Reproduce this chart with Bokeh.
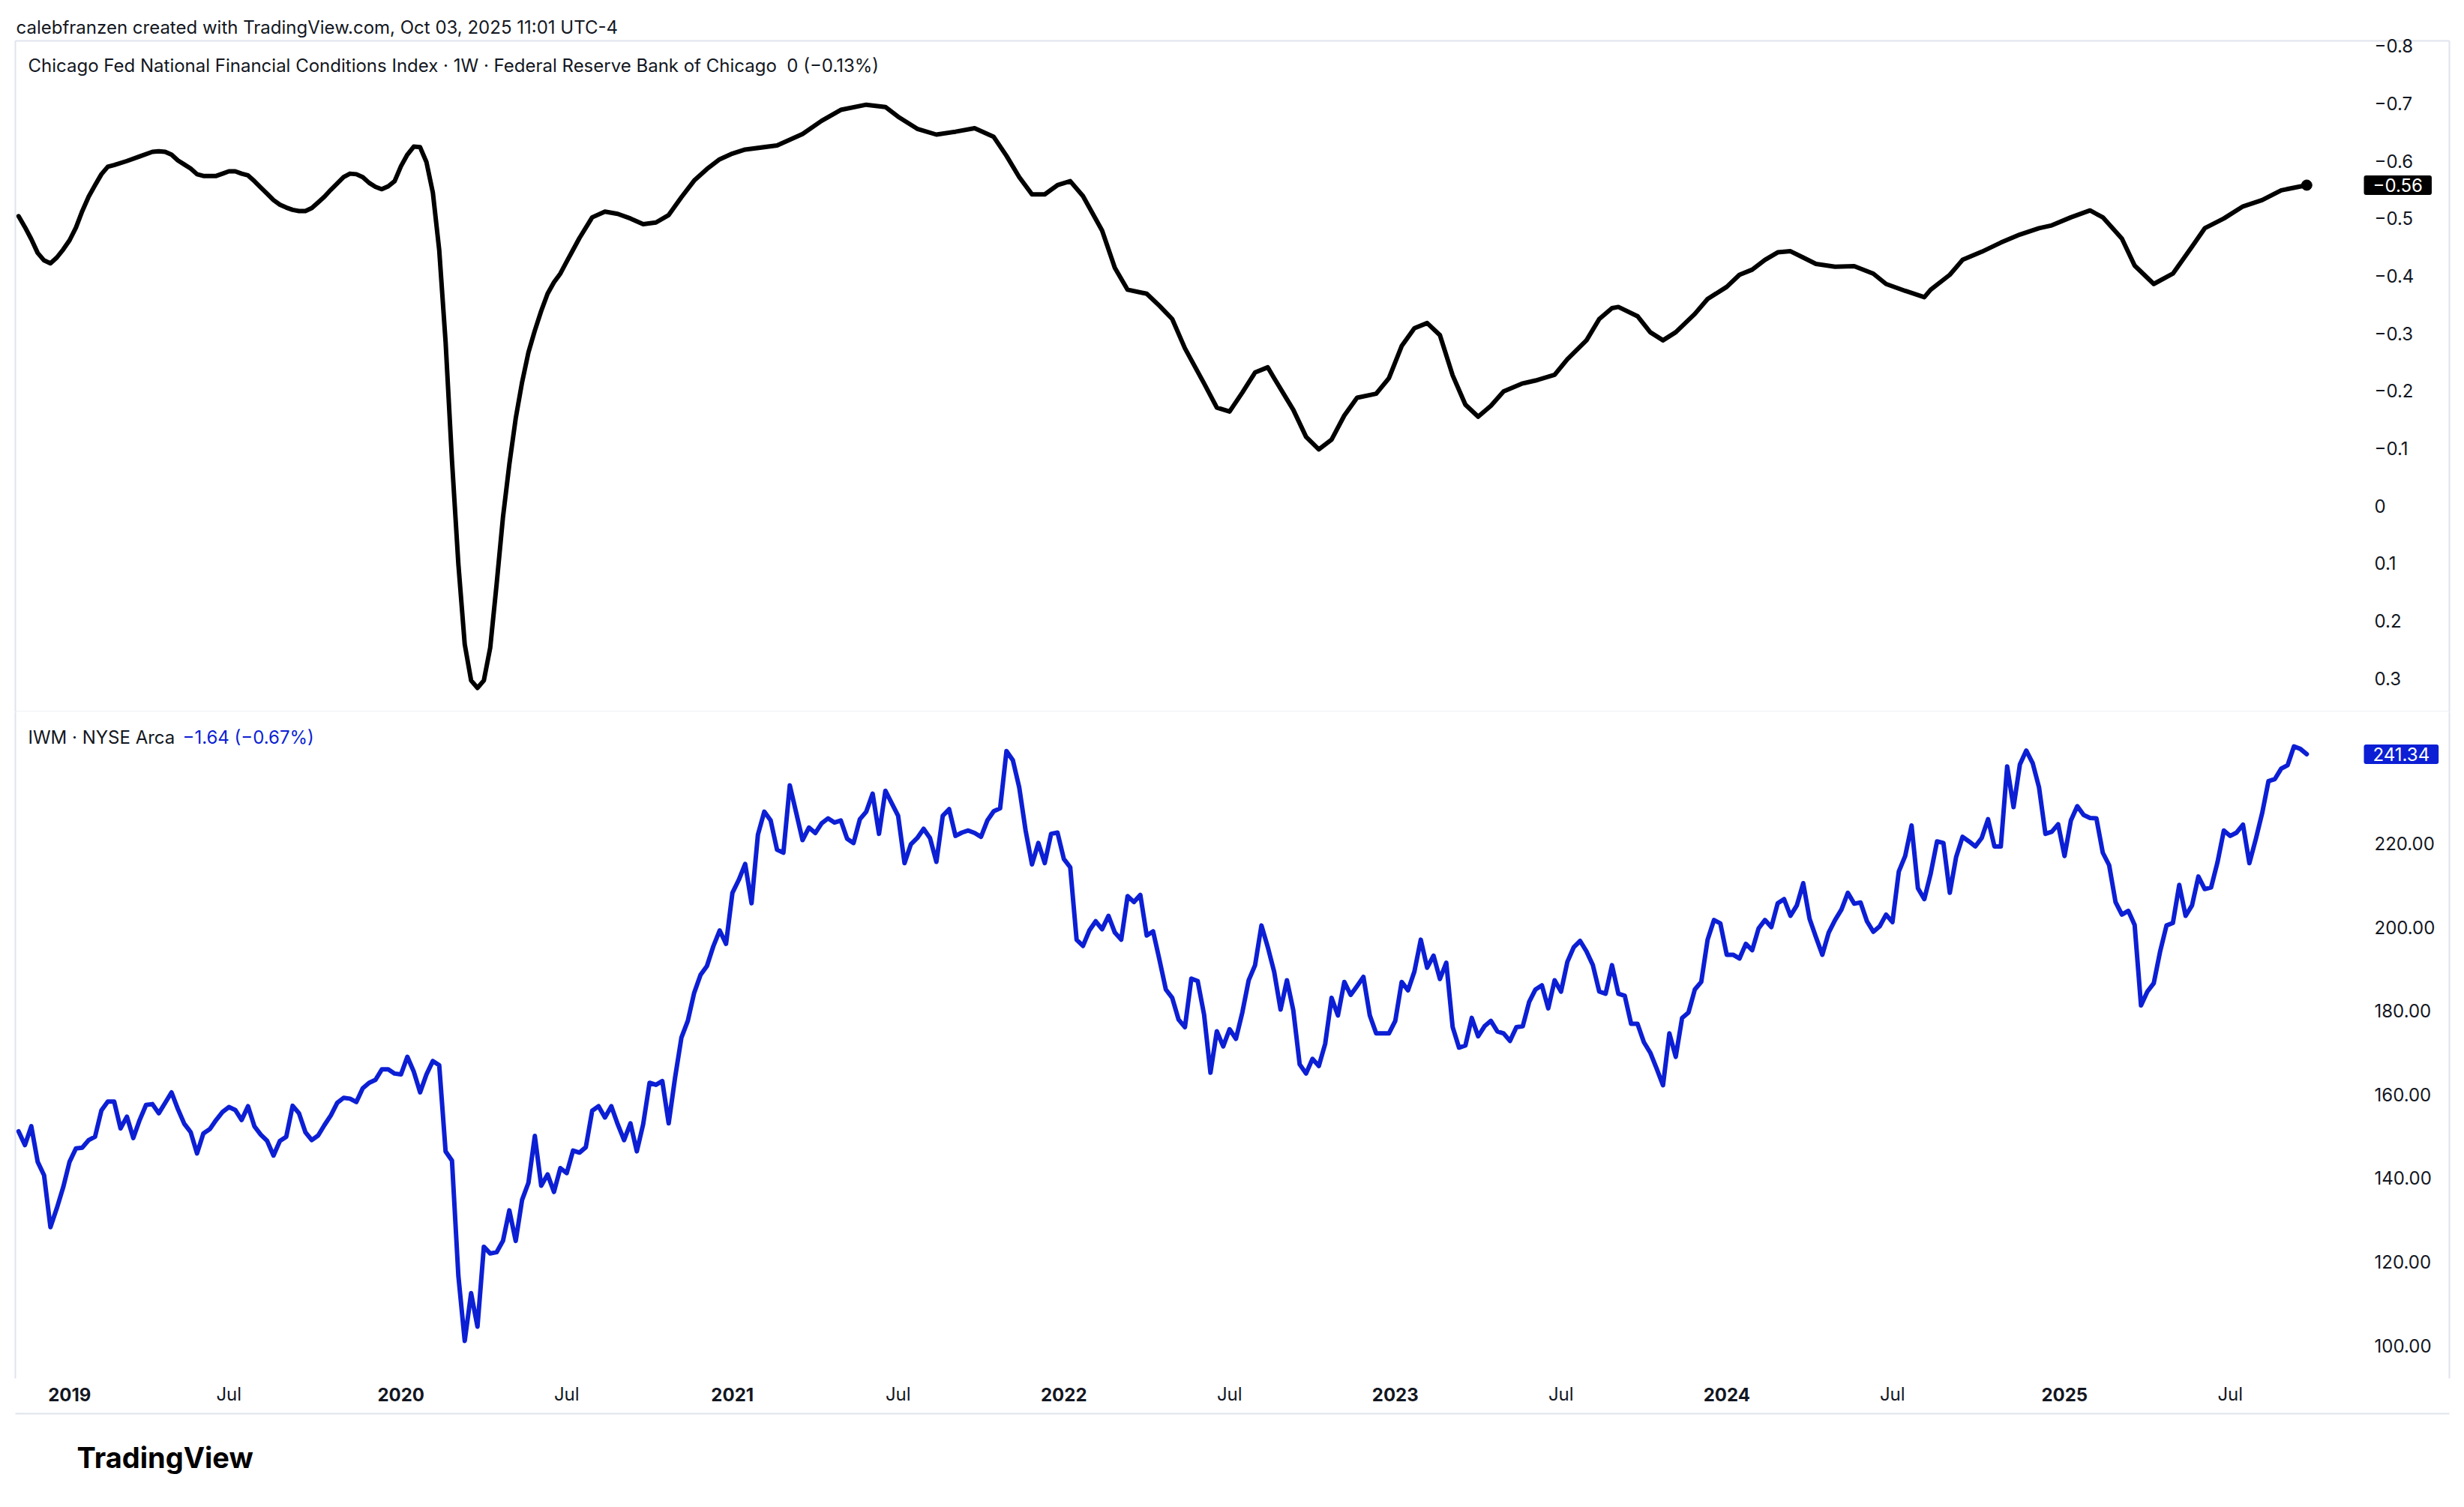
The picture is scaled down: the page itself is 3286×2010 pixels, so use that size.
import numpy as np
import pandas as pd
from bokeh.plotting import figure
from bokeh.layouts import column
from bokeh.models import (Range1d, FixedTicker, CustomJSTickFormatter, NumeralTickFormatter,
                          Label, LinearAxis, DatetimeAxis, Title)
from bokeh.embed import file_html
from bokeh.resources import INLINE

# ---------------- data (weekly bars, first bar week of 2018-11-12) ----------------
start_week = "2018-11-12"

iwm_close = [
    151.2, 147.9, 152.4, 143.9, 140.7, 128.3, 132.8, 137.8, 143.9, 147.1,
    147.3, 149.1, 149.9, 156.2, 158.3, 158.3, 151.9, 154.7, 149.6, 153.9,
    157.5, 157.7, 155.5, 158.0, 160.5, 156.5, 153.0, 151.0, 145.9, 150.7,
    151.7, 153.9, 155.8, 157.0, 156.3, 153.9, 157.2, 152.4, 150.4, 148.9,
    145.4, 148.9, 149.9, 157.3, 155.5, 151.0, 149.1, 150.2, 152.7, 155.0,
    158.0, 159.2, 159.0, 158.2, 161.5, 162.8, 163.5, 166.0, 166.0, 165.0,
    164.8, 169.0, 165.5, 160.5, 164.8, 168.0, 167.0, 146.4, 144.2, 116.7,
    101.1, 112.5, 104.5, 123.6, 122.0, 122.3, 125.0, 132.3, 125.0, 134.8,
    138.9, 150.1, 138.2, 140.9, 136.7, 142.4, 141.2, 146.6, 146.1, 147.4,
    156.1, 157.2, 154.5, 157.2, 152.9, 149.1, 153.1, 146.4, 152.9, 162.8,
    162.3, 163.2, 153.1, 164.0, 173.6, 177.6, 184.3, 188.6, 190.7, 195.4,
    199.2, 196.0, 208.2, 211.3, 215.1, 205.7, 222.1, 227.6, 225.5, 218.5,
    217.8, 233.9, 227.4, 220.8, 223.8, 222.5, 224.8, 226.0, 225.0, 225.5,
    221.1, 220.1, 225.8, 227.6, 231.9, 222.3, 232.6, 229.6, 226.6, 215.3,
    219.8, 221.3, 223.5, 221.3, 215.6, 226.6, 228.2, 221.8, 222.6, 223.1,
    222.5, 221.6, 225.5, 227.7, 228.4, 242.1, 239.9, 233.4, 223.1, 215.0,
    220.1, 215.3, 222.3, 222.6, 216.3, 214.3, 197.0, 195.5, 199.2, 201.4,
    199.5, 202.7, 198.7, 197.0, 207.4, 206.0, 207.7, 198.0, 199.0, 192.2,
    185.1, 183.1, 177.9, 176.1, 187.7, 187.1, 179.1, 165.2, 175.1, 171.5,
    175.6, 173.3, 179.6, 187.3, 190.9, 200.4, 195.2, 189.3, 180.3, 187.3,
    180.1, 167.2, 165.0, 168.5, 166.8, 172.1, 183.1, 178.9, 186.9, 183.8,
    185.9, 188.1, 178.9, 174.6, 174.6, 174.6, 177.6, 186.9, 184.9, 189.4,
    197.0, 190.3, 193.2, 187.6, 191.5, 176.1, 171.2, 171.7, 178.3, 173.9,
    176.3, 177.6, 175.1, 174.6, 172.8, 176.1, 176.3, 182.1, 185.1, 186.1,
    180.6, 187.3, 184.6, 191.7, 195.2, 196.7, 194.2, 190.9, 184.6, 184.1,
    190.9, 184.1, 183.6, 176.9, 176.9, 172.5, 170.0, 166.2, 162.2, 174.6,
    169.0, 178.3, 179.6, 185.1, 186.9, 197.0, 201.7, 200.9, 193.4, 193.4,
    192.5, 196.0, 194.5, 199.7, 201.7, 200.0, 205.7, 206.7, 202.7, 205.2,
    210.5, 202.0, 197.6, 193.4, 198.7, 201.7, 204.2, 208.2, 205.6, 205.9,
    201.4, 198.9, 200.2, 203.0, 201.2, 213.3, 217.0, 224.3, 209.3, 206.7,
    212.8, 220.5, 220.1, 208.2, 216.8, 221.6, 220.5, 219.3, 221.3, 225.8,
    219.3, 219.3, 238.4, 228.7, 238.9, 242.2, 239.2, 233.4, 222.3, 222.8,
    224.6, 217.0, 225.5, 228.9, 226.8, 226.1, 226.0, 217.8, 214.8, 206.0,
    203.0, 203.9, 200.5, 181.3, 184.6, 186.6, 194.2, 200.4, 201.0, 210.1,
    202.7, 205.2, 212.1, 209.1, 209.5, 215.5, 223.1, 221.8, 222.6, 224.5,
    215.3, 221.0, 227.2, 234.9, 235.4, 237.9, 238.7, 243.2, 242.6, 241.34,
]

nfci_week = [
    0, 1, 2, 3, 4, 5, 6, 7, 8, 9, 10, 11, 12, 13, 14, 15, 17, 19, 21, 22,
    23, 24, 25, 26, 27, 28, 29, 30, 31, 32, 33, 34, 35, 36, 37, 38, 39, 40, 41, 42,
    43, 44, 45, 46, 47, 48, 49, 50, 51, 52, 53, 54, 55, 56, 57, 58, 59, 60, 61, 62,
    63, 64, 65, 66, 67, 68, 69, 70, 71, 72, 73, 74, 75, 76, 77, 78, 79, 80, 81, 82,
    83, 84, 85, 86, 88, 90, 92, 94, 96, 98, 100, 102, 104, 106, 108, 110, 112, 114, 119, 123,
    126, 129, 133, 136, 138, 141, 144, 147, 150, 153, 155, 157, 159, 161, 163, 165, 167, 170, 172, 174,
    177, 179, 181, 183, 186, 188, 190, 192, 194, 196, 197, 200, 202, 204, 206, 208, 210, 213, 215, 217,
    219, 221, 223, 225, 227, 229, 231, 233, 236, 238, 241, 243, 246, 248, 250, 251, 254, 256, 258, 260,
    263, 265, 268, 270, 272, 274, 276, 278, 280, 282, 285, 288, 291, 293, 296, 299, 300, 303, 305, 308,
    311, 314, 317, 319, 322, 325, 327, 330, 332, 335, 338, 341, 343, 346, 349, 352, 355, 359,
]
nfci_value = [
    -0.504, -0.485, -0.464, -0.440, -0.427, -0.422, -0.432, -0.446, -0.462, -0.484,
    -0.513, -0.538, -0.558, -0.577, -0.590, -0.593, -0.600, -0.608, -0.616, -0.617,
    -0.616, -0.611, -0.601, -0.594, -0.587, -0.577, -0.574, -0.574, -0.574, -0.578,
    -0.582, -0.582, -0.578, -0.575, -0.565, -0.554, -0.543, -0.532, -0.524, -0.519,
    -0.515, -0.513, -0.513, -0.518, -0.528, -0.538, -0.550, -0.561, -0.572, -0.578,
    -0.577, -0.572, -0.562, -0.555, -0.551, -0.556, -0.565, -0.591, -0.611, -0.625,
    -0.624, -0.598, -0.545, -0.445, -0.285, -0.079, 0.101, 0.241, 0.304, 0.317,
    0.304, 0.247, 0.137, 0.020, -0.072, -0.152, -0.215, -0.267, -0.305, -0.339,
    -0.369, -0.389, -0.404, -0.425, -0.466, -0.502, -0.512, -0.508, -0.500, -0.490,
    -0.493, -0.506, -0.537, -0.566, -0.586, -0.603, -0.613, -0.620, -0.627, -0.647,
    -0.670, -0.689, -0.698, -0.694, -0.677, -0.656, -0.646, -0.651, -0.657, -0.642,
    -0.609, -0.572, -0.542, -0.542, -0.558, -0.565, -0.539, -0.479, -0.414, -0.376,
    -0.369, -0.348, -0.325, -0.274, -0.213, -0.171, -0.164, -0.197, -0.232, -0.241,
    -0.222, -0.167, -0.120, -0.098, -0.115, -0.157, -0.188, -0.195, -0.222, -0.278,
    -0.309, -0.318, -0.297, -0.227, -0.176, -0.155, -0.174, -0.199, -0.213, -0.218,
    -0.228, -0.255, -0.288, -0.325, -0.344, -0.346, -0.330, -0.302, -0.288, -0.302,
    -0.334, -0.360, -0.381, -0.402, -0.411, -0.428, -0.441, -0.443, -0.432, -0.421,
    -0.416, -0.417, -0.404, -0.386, -0.374, -0.363, -0.376, -0.402, -0.428, -0.442,
    -0.458, -0.472, -0.483, -0.488, -0.502, -0.514, -0.502, -0.465, -0.418, -0.386,
    -0.404, -0.451, -0.483, -0.500, -0.521, -0.532, -0.549, -0.558,
]

nfci_ticks = [-0.8, -0.7, -0.6, -0.5, -0.4, -0.3, -0.2, -0.1, 0.0, 0.1, 0.2, 0.3]
iwm_ticks = [100, 120, 140, 160, 180, 200, 220]
# time-axis labels sit on the first weekly bar of each period
year_ticks = ["2019-01-07", "2020-01-06", "2021-01-04", "2022-01-03",
              "2023-01-02", "2024-01-01", "2025-01-06"]
jul_ticks = ["2019-07-01", "2020-07-06", "2021-07-05", "2022-07-04",
             "2023-07-03", "2024-07-01", "2025-07-07"]

header_text = "calebfranzen created with TradingView.com, Oct 03, 2025 11:01 UTC-4"
nfci_title = "Chicago Fed National Financial Conditions Index \u00b7 1W \u00b7 Federal Reserve Bank of Chicago\u00a0\u00a00 (\u22120.13%)"
iwm_title = "IWM \u00b7 NYSE Arca"
iwm_change = "\u22121.64 (\u22120.67%)"
brand_text = "TradingView"

# ---------------- derived ----------------
t0 = pd.Timestamp(start_week)
iwm_dates = pd.date_range(t0, periods=len(iwm_close), freq="7D")
nfci_dates = t0 + pd.to_timedelta(np.array(nfci_week) * 7, unit="D")

def ms(s):
    return pd.Timestamp(s).value / 1e6

# ---------------- styling constants ----------------
FONT = "Inter"
TXT = "#131722"
BLUE = "#0c1fd4"
EDGE = "#e0e3eb"
FW = 3246          # frame width (plot + price-scale area)
FH1 = 895          # top pane frame height
FH2 = 889          # bottom pane frame height
BL = 20            # left border
BR = 14            # right border
BADGE_X = 3132     # badge text start, px from frame left
WEEKS_VISIBLE = 381.88

x_range = Range1d(t0 - pd.Timedelta(days=3.5), t0 + pd.Timedelta(days=WEEKS_VISIBLE * 7 - 3.5))


def edge_axis(fig, loc):
    ax = LinearAxis(ticker=FixedTicker(ticks=[]), major_label_text_font_size="0px",
                    major_tick_line_color=None, minor_tick_line_color=None,
                    axis_line_color=EDGE, axis_line_width=2,
                    major_label_standoff=0, major_tick_out=0, major_tick_in=0)
    fig.add_layout(ax, loc)


def style_right_axis(ax):
    ax.major_label_text_font = FONT
    ax.major_label_text_font_size = "24px"
    ax.major_label_text_color = TXT
    ax.axis_line_color = EDGE
    ax.axis_line_width = 2
    ax.major_tick_line_color = None
    ax.minor_tick_line_color = None
    ax.major_tick_out = 0
    ax.major_tick_in = 0
    ax.major_label_standoff = -100


def badge(fig, y, text, fill):
    fig.add_layout(Label(x=BADGE_X, y=y, x_units="screen", y_units="data", text=text,
                         text_font=FONT, text_font_size="24px", text_color="white",
                         text_baseline="middle", text_align="left",
                         background_fill_color=fill, padding=(12, 4), border_radius=3))


# ---------------- top pane: NFCI ----------------
p1 = figure(frame_width=FW, frame_height=FH1, x_range=x_range,
            y_range=Range1d(0.3587, -0.8091), x_axis_type="datetime",
            x_axis_location=None, y_axis_location="right",
            output_backend="svg", toolbar_location=None,
            min_border_left=BL, min_border_right=BR, min_border_top=54, min_border_bottom=0,
            background_fill_color="white", border_fill_color="white")
p1.outline_line_color = None
p1.grid.visible = False

ax1 = p1.right[0]
ax1.ticker = FixedTicker(ticks=nfci_ticks)
ax1.formatter = CustomJSTickFormatter(code="""
    if (Math.abs(tick) < 1e-9) { return "0"; }
    return (tick < 0 ? "\\u2212" : "") + Math.abs(tick).toFixed(1);
""")
style_right_axis(ax1)

edge_axis(p1, "above")
edge_axis(p1, "below")
edge_axis(p1, "left")

p1.add_layout(Title(text=header_text, align="left", offset=1, standoff=8,
                    text_font=FONT, text_font_size="24px", text_font_style="normal",
                    text_color=TXT), "above")

p1.line(nfci_dates, nfci_value, line_color="black", line_width=6, line_join="round", line_cap="round")
p1.scatter([nfci_dates[-1]], [nfci_value[-1]], size=14, color="black")

last_nfci = nfci_value[-1]
badge(p1, last_nfci, ("\u2212" if last_nfci < 0 else "") + f"{abs(last_nfci):.2f}", "black")

p1.add_layout(Label(x=17, y=FH1 - 33, x_units="screen", y_units="screen", text=nfci_title,
                    text_font=FONT, text_font_size="24px", text_color=TXT,
                    text_baseline="middle", text_align="left"))

# ---------------- bottom pane: IWM ----------------
p2 = figure(frame_width=FW, frame_height=FH2, x_range=x_range,
            y_range=Range1d(92.13, 251.45), x_axis_type="datetime",
            y_axis_location="right",
            output_backend="svg", toolbar_location=None,
            min_border_left=BL, min_border_right=BR, min_border_top=0, min_border_bottom=150,
            background_fill_color="white", border_fill_color="white")
p2.outline_line_color = None
p2.grid.visible = False

ax2 = p2.right[0]
ax2.ticker = FixedTicker(ticks=iwm_ticks)
ax2.formatter = NumeralTickFormatter(format="0.00")
style_right_axis(ax2)

xa = p2.below[0]
xa.ticker = FixedTicker(ticks=[ms(s) for s in year_ticks])
xa.formatter = CustomJSTickFormatter(code="return String(new Date(tick).getUTCFullYear());")
xa.major_label_text_font = FONT
xa.major_label_text_font_size = "24px"
xa.major_label_text_font_style = "bold"
xa.major_label_text_color = TXT
xa.axis_line_color = None
xa.major_tick_line_color = None
xa.minor_tick_line_color = None
xa.major_tick_out = 0
xa.major_tick_in = 0
xa.major_label_standoff = 12
xa.axis_label = " "
xa.axis_label_text_font_size = "10px"
xa.axis_label_standoff = 0

ja = DatetimeAxis(ticker=FixedTicker(ticks=[ms(s) for s in jul_ticks]))
ja.formatter = CustomJSTickFormatter(
    code="return new Date(tick).toLocaleString('en-US', {month: 'short', timeZone: 'UTC'});")
ja.major_label_text_font = FONT
ja.major_label_text_font_size = "24px"
ja.major_label_text_color = TXT
ja.axis_line_color = None
ja.major_tick_line_color = None
ja.minor_tick_line_color = None
ja.major_tick_out = 0
ja.major_tick_in = 0
ja.major_label_standoff = -41
p2.add_layout(ja, "below")

edge_axis(p2, "below")
edge_axis(p2, "left")

p2.add_layout(Title(text=brand_text, align="left", offset=82, standoff=66,
                    text_font=FONT, text_font_size="38px", text_font_style="bold",
                    text_color="black"), "below")

p2.line(iwm_dates, iwm_close, line_color=BLUE, line_width=6, line_join="round", line_cap="round")

last_iwm = iwm_close[-1]
badge(p2, last_iwm, f"{last_iwm:.2f}", BLUE)

p2.add_layout(Label(x=17, y=FH2 - 34, x_units="screen", y_units="screen", text=iwm_title,
                    text_font=FONT, text_font_size="24px", text_color=TXT,
                    text_baseline="middle", text_align="left"))
p2.add_layout(Label(x=223, y=FH2 - 34, x_units="screen", y_units="screen", text=iwm_change,
                    text_font=FONT, text_font_size="24px", text_color=BLUE,
                    text_baseline="middle", text_align="left"))

layout = column(p1, p2, spacing=0)
open("out.html", "w").write(file_html(layout, INLINE))
